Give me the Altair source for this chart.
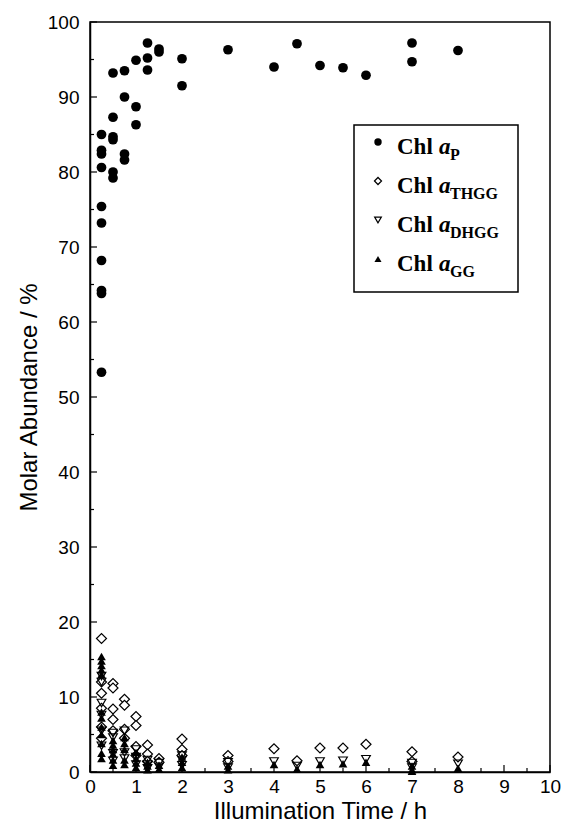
import altair as alt
import pandas as pd

# ---------------- data ----------------
# Chl a_P  (filled circles)
p_time = [0.25, 0.25, 0.25, 0.25, 0.25, 0.25, 0.25, 0.25, 0.25, 0.25,
          0.5, 0.5, 0.5, 0.5, 0.5, 0.5,
          0.75, 0.75, 0.75, 0.75,
          1.0, 1.0, 1.0,
          1.25, 1.25, 1.25,
          1.5, 1.5,
          2.0, 2.0,
          3, 4, 4.5, 5, 5.5, 6, 7, 7, 8]
p_val = [85.0, 82.9, 82.4, 80.6, 75.4, 73.2, 68.2, 64.2, 63.8, 53.3,
         93.2, 87.3, 84.7, 84.3, 80.0, 79.2,
         93.5, 90.0, 82.4, 81.6,
         94.9, 88.7, 86.3,
         97.2, 95.2, 93.6,
         96.4, 96.0,
         95.1, 91.5,
         96.3, 94.0, 97.1, 94.2, 93.9, 92.9, 97.2, 94.7, 96.2]

# Chl a_THGG (open diamonds)
thgg_time = [0.25, 0.25, 0.25, 0.25, 0.25, 0.25,
             0.5, 0.5, 0.5, 0.5, 0.5,
             0.75, 0.75, 0.75, 0.75,
             1.0, 1.0, 1.0, 1.0,
             1.25, 1.25, 1.25,
             1.5, 1.5,
             2.0, 2.0, 2.0,
             3, 3, 4, 4.5, 5, 5.5, 6, 7, 7, 8]
thgg_val = [17.8, 12.0, 10.5, 8.5, 6.0, 4.5,
            11.8, 11.2, 8.4, 7.0, 5.5,
            9.7, 8.9, 5.7, 4.5,
            7.4, 6.2, 3.4, 2.2,
            3.6, 2.4, 1.4,
            1.8, 1.3,
            4.4, 3.0, 2.2,
            2.2, 1.4, 3.1, 1.5, 3.2, 3.2, 3.7, 2.7, 1.4, 2.0]

# Chl a_DHGG (open down-triangles)
dhgg_time = [0.25, 0.25, 0.25, 0.25, 0.25, 0.25,
             0.5, 0.5, 0.5, 0.5,
             0.75, 0.75, 0.75,
             1.0, 1.0, 1.0,
             1.25, 1.25, 1.25,
             1.5, 1.5,
             2.0, 2.0, 2.0,
             3, 3, 4, 4.5, 5, 5.5, 6, 7, 7, 8]
dhgg_val = [12.8, 12.0, 9.2, 7.6, 5.5, 3.5,
            5.2, 4.6, 2.5, 1.5,
            5.5, 2.6, 1.8,
            3.0, 2.0, 1.0,
            1.6, 1.0, 0.5,
            1.2, 0.7,
            2.2, 1.6, 0.9,
            1.3, 0.6, 1.4, 0.8, 1.4, 1.5, 1.7, 1.2, 0.6, 1.1]

# Chl a_GG (filled up-triangles)
gg_time = [0.25, 0.25, 0.25, 0.25, 0.25, 0.25, 0.25, 0.25, 0.25, 0.25, 0.25, 0.25,
           0.5, 0.5, 0.5, 0.5, 0.5, 0.5,
           0.75, 0.75, 0.75, 0.75, 0.75,
           1.0, 1.0, 1.0, 1.0,
           1.25, 1.25, 1.25,
           1.5, 1.5,
           2.0, 2.0, 2.0,
           3, 3, 4, 4.5, 5, 5.5, 6, 7, 7, 7, 8]
gg_val = [15.4, 14.8, 14.2, 13.6, 13.0, 8.0, 7.2, 6.0, 5.0, 3.8, 2.5, 1.8,
          4.2, 3.6, 3.0, 2.4, 1.6, 0.9,
          4.6, 3.8, 3.0, 1.6, 1.0,
          2.6, 1.8, 1.2, 0.6,
          1.3, 0.8, 0.3,
          0.9, 0.4,
          2.0, 1.3, 0.6,
          0.8, 0.3, 1.0, 0.4, 1.0, 1.1, 1.3, 0.8, 0.3, 0.1, 0.5]

x_major = [0, 1, 2, 3, 4, 5, 6, 7, 8, 9, 10]
x_minor = [0.5, 1.5, 2.5, 3.5, 4.5, 5.5, 6.5, 7.5, 8.5, 9.5]
y_major = [0, 10, 20, 30, 40, 50, 60, 70, 80, 90, 100]
y_minor = [5, 15, 25, 35, 45, 55, 65, 75, 85, 95]

legend_subs = ["P", "THGG", "DHGG", "GG"]

# ---------------- layout ----------------
W, H = 460, 750
SANS = "Liberation Sans"
SERIF = "Liberation Serif"

xs = alt.Scale(domain=[0, 10], nice=False, zero=False)
ys = alt.Scale(domain=[0, 100], nice=False)

x_axis = alt.Axis(values=x_major, format="d", ticks=False, grid=False,
                  labelFlush=False, labelOverlap=False,
                  domainColor="black", domainWidth=1.5,
                  labelFont=SANS, labelFontSize=19, labelColor="black",
                  labelPadding=5, title="Illumination Time / h",
                  titleFont=SANS, titleFontSize=24, titleFontWeight="normal",
                  titleColor="black", titlePadding=3)
y_axis = alt.Axis(values=y_major, format="d", ticks=False, grid=False,
                  labelFlush=False, labelOverlap=False,
                  domainColor="black", domainWidth=1.5,
                  labelFont=SANS, labelFontSize=19, labelColor="black",
                  labelPadding=11, title="Molar Abundance / %",
                  titleFont=SANS, titleFontSize=24, titleFontWeight="normal",
                  titleColor="black", titlePadding=6)


def series(times, vals):
    return pd.DataFrame({"time": times, "value": vals})


def xy():
    return dict(x=alt.X("time:Q", scale=xs, axis=x_axis),
                y=alt.Y("value:Q", scale=ys, axis=y_axis))


base_p = alt.Chart(series(p_time, p_val)).mark_point(
    shape="circle", filled=True, size=95, color="black", opacity=1
).encode(**xy())

thgg = alt.Chart(series(thgg_time, thgg_val)).mark_point(
    shape="diamond", filled=False, size=100, stroke="black", fill="white",
    fillOpacity=1, strokeWidth=1.2, opacity=1
).encode(**xy())

gg = alt.Chart(series(gg_time, gg_val)).mark_point(
    shape="triangle-up", filled=True, size=75, color="black", opacity=1
).encode(**xy())

dhgg = alt.Chart(series(dhgg_time, dhgg_val)).mark_point(
    shape="triangle-down", filled=False, size=75, stroke="black",
    strokeWidth=1.2, opacity=1
).encode(**xy())


def xticks(vals, length):
    return alt.Chart(pd.DataFrame({"time": vals})).mark_rule(
        color="black", strokeWidth=1.2
    ).encode(x=alt.X("time:Q", scale=xs, axis=x_axis),
             y=alt.value(H), y2=alt.value(H - length))


def yticks(vals, length):
    return alt.Chart(pd.DataFrame({"value": vals})).mark_rule(
        color="black", strokeWidth=1.2
    ).encode(y=alt.Y("value:Q", scale=ys, axis=y_axis),
             x=alt.value(0), x2=alt.value(length))


layers = [xticks(x_major, 7), xticks(x_minor, 4),
          yticks(y_major, 7), yticks(y_minor, 4),
          thgg, gg, dhgg, base_p]

# ---------------- legend (drawn as annotation) ----------------
one = pd.DataFrame({"k": [0]})
LX0, LX1, LY0, LY1 = 264, 428, 103, 270
layers.append(alt.Chart(one).mark_rect(fill="white", stroke="black",
                                       strokeWidth=1.5).encode(
    x=alt.value(LX0), x2=alt.value(LX1), y=alt.value(LY0), y2=alt.value(LY1)))

sym_styles = [
    dict(shape="circle", filled=True, size=55, color="black"),
    dict(shape="diamond", filled=False, size=50, stroke="black", strokeWidth=1.2),
    dict(shape="triangle-down", filled=False, size=45, stroke="black", strokeWidth=1.2),
    dict(shape="triangle-up", filled=True, size=50, color="black"),
]
ROW0, ROWSTEP = 132, 39
for i, sub in enumerate(legend_subs):
    base_y = ROW0 + i * ROWSTEP
    layers.append(alt.Chart(one).mark_point(opacity=1, **sym_styles[i]).encode(
        x=alt.value(288), y=alt.value(base_y - 12)))
    layers.append(alt.Chart(one).mark_text(
        text="Chl", font=SERIF, fontSize=23, fontWeight="bold",
        align="left", baseline="alphabetic", color="black").encode(
        x=alt.value(307), y=alt.value(base_y)))
    layers.append(alt.Chart(one).mark_text(
        text="a", font=SERIF, fontSize=23, fontWeight="bold", fontStyle="italic",
        align="left", baseline="alphabetic", color="black").encode(
        x=alt.value(349), y=alt.value(base_y)))
    layers.append(alt.Chart(one).mark_text(
        text=sub, font=SERIF, fontSize=16, fontWeight="bold",
        align="left", baseline="alphabetic", color="black").encode(
        x=alt.value(360), y=alt.value(base_y + 6)))

chart = alt.layer(*layers).properties(
    width=W, height=H,
    autosize=alt.AutoSizeParams(type="none"),
    padding={"left": 82, "top": 14, "right": 17, "bottom": 55},
    background="white",
).configure_view(stroke="black", strokeWidth=1.5)

chart.save("out.html", embed_options={"renderer": "svg", "actions": False})
